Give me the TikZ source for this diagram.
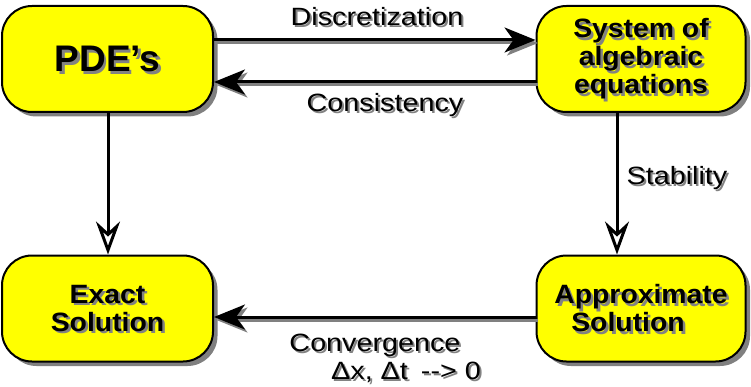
\documentclass[tikz,border=0pt]{standalone}
\usepackage{fontspec}
\setmainfont{Liberation Sans}
\newfontfamily\lblfamily[FakeStretch=1.15]{Liberation Sans}
\newfontfamily\boxfamily[FakeStretch=1.07]{Liberation Sans}
\usetikzlibrary{arrows.meta,shadows}
\definecolor{boxshadow}{RGB}{128,128,128}
\definecolor{tshadow}{RGB}{130,130,130}
\definecolor{boxyellow}{RGB}{255,255,0}
\newcommand\lblfont{\lblfamily\fontsize{25}{27}\selectfont}
\newcommand\boxfont{\boxfamily\bfseries\fontsize{26.5}{28}\selectfont}
\newcommand\bigboxfont{\bfseries\fontsize{37}{40}\selectfont}
\newcommand\shlabel[3]{%
  \node[text=tshadow, font=\lblfont, inner sep=0pt, xshift=2pt, yshift=-2pt] (#1s) at #2 {#3};
  \node[font=\lblfont, inner sep=0pt] (#1) at #2 {#3};}
\begin{document}
\begin{tikzpicture}[x=1pt,y=1pt,
  box/.style n args={3}{draw=black, line width=2pt, fill=boxyellow,
    rounded corners=30pt, minimum width=#3, minimum height=106pt,
    inner sep=0pt, align=center, font=#2,
    general shadow={fill=boxshadow, shadow xshift=4.5pt, shadow yshift=-4.5pt},
    path picture={\node[draw=none, fill=none, text=tshadow, align=center,
      font=#2, inner sep=0pt] at ([xshift=2.5pt,yshift=-2.5pt]path picture bounding box.center) {#1};}},
  harr/.style={line width=3pt, -{Stealth[length=31pt,width=25pt,inset=9pt]}},
  hshadow/.style={harr, draw=boxshadow, fill=boxshadow, transform canvas={shift={(2.5pt,-3pt)}}},
  varr/.style={line width=3pt, -{Stealth[open,fill=white,length=33pt,width=24pt,inset=11pt]}}]
\useasboundingbox (0,0) rectangle (751,386);

\node[box={PDE’s}{\bigboxfont}{211pt}] (pde) at (107.5,327) {PDE’s};
\node[box={System of\\algebraic\\equations}{\boxfont}{209pt}] (sys) at (641,327) {System of\\algebraic\\equations};
\node[box={Exact\\Solution}{\boxfont}{211pt}] (exact) at (107.5,77.5) {Exact\\Solution};
\node[box={Approximate\\Solution\hspace*{26pt}}{\boxfont}{209pt}] (approx) at (641,77.5) {Approximate\\Solution\hspace*{26pt}};

% horizontal arrows with shadows
\draw[hshadow] ([yshift=19pt]pde.east) -- ([yshift=19pt]sys.west);
\draw[harr] ([yshift=19pt]pde.east) -- ([yshift=19pt]sys.west);
\draw[hshadow] ([yshift=-23pt]sys.west) -- ([yshift=-23pt]pde.east);
\draw[harr] ([yshift=-23pt]sys.west) -- ([yshift=-23pt]pde.east);
\draw[hshadow] ([yshift=-8.5pt]approx.west) -- ([yshift=-8.5pt]exact.east);
\draw[harr] ([yshift=-8.5pt]approx.west) -- ([yshift=-8.5pt]exact.east);

% vertical arrows
\draw[varr] ([xshift=0.5pt]pde.south) -- ([xshift=0.5pt]exact.north);
\draw[varr] ([xshift=-24pt]sys.south) -- ([xshift=-24pt]approx.north);

% labels
\shlabel{disc}{(377,369)}{Discretization}
\shlabel{cons}{(385,281)}{Consistency}
\shlabel{stab}{(677,208)}{Stability}
\shlabel{conv}{(375,41)}{Convergence}
\shlabel{lim}{(406,14)}{Δx, Δt\hspace{13pt}-{}-> 0}
\end{tikzpicture}
\end{document}
